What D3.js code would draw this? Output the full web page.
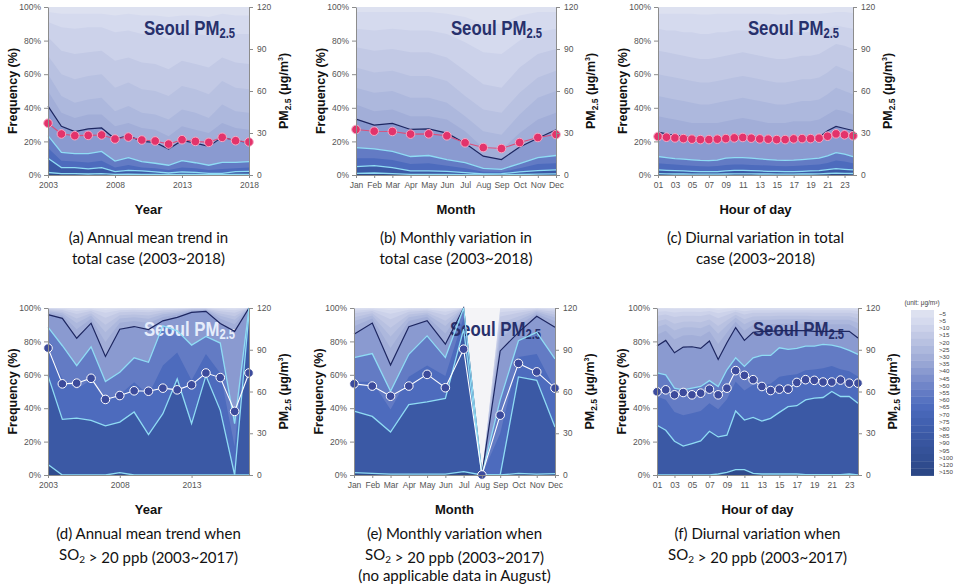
<!DOCTYPE html>
<html lang="en">
<head>
<meta charset="utf-8"/>
<title>Seoul PM2.5 frequency distribution</title>
<style>
  body { margin: 0; background: #fff; }
  svg { display: block; }
  .axis text { font-family: "Liberation Sans", Arial, sans-serif; font-size: 8.5px; fill: #555; }
  .axis path, .axis line { stroke: #8c8c8c; }
  .ttl { font-family: "Liberation Sans", Arial, sans-serif; font-weight: bold; fill: #111; }
  .cap { font-family: Lato, "Open Sans", sans-serif; font-size: 15px; fill: #111; text-anchor: middle; }
  .seoul { font-family: "Liberation Sans", Arial, sans-serif; font-weight: bold; }
</style>
</head>
<body>
<svg id="chart" width="965" height="588"></svg>
<script src="https://d3js.org/d3.v7.min.js"></script>
<script>
// legend classes (ug/m3), light -> dark
const legendLabels = ["~5", ">5", ">10", ">15", ">20", ">25", ">30", ">35", ">40", ">45", ">50", ">55",
  ">60", ">65", ">70", ">75", ">80", ">85", ">90", ">95", ">100", ">120", ">150"];
const legendColors = ["#dde1f0", "#d5daee", "#ccd2ea", "#c2c9e5", "#b8c1e1", "#adb8dd", "#a2aed8", "#97a5d4",
  "#8a9ad0", "#7d8fcc", "#7085c8", "#637bc4", "#5773c1", "#4d6bbd", "#4766b7", "#4261b1", "#3e5dab",
  "#3b59a5", "#38559f", "#355299", "#324f94", "#2f4b8d", "#2b4786"];

// rows of every exceed table: % of hours with PM2.5 above these thresholds
const exceedThresholds = [5, 10, 15, 20, 25, 30, 35, 50, 60, 75, 100];
// legend class used to paint the band lying above each row (last one = below >100)
const bandClass = [0, 1, 2, 3, 4, 5, 6, 8, 11, 13, 17, 21];

const years = [2003, 2004, 2005, 2006, 2007, 2008, 2009, 2010, 2011, 2012, 2013, 2014, 2015, 2016, 2017, 2018];
const yearsSO2 = [2003, 2004, 2005, 2006, 2007, 2008, 2009, 2010, 2011, 2012, 2013, 2014, 2015, 2016, 2017];
const months = ["Jan", "Feb", "Mar", "Apr", "May", "Jun", "Jul", "Aug", "Sep", "Oct", "Nov", "Dec"];
const hours = ["01", "02", "03", "04", "05", "06", "07", "08", "09", "10", "11", "12",
  "13", "14", "15", "16", "17", "18", "19", "20", "21", "22", "23", "24"];
const yearTicksA = [2003, 2008, 2013, 2018];
const yearTicksD = [2003, 2008, 2013];
const hourTicks = ["01", "03", "05", "07", "09", "11", "13", "15", "17", "19", "21", "23"];

// (a) annual, total case
const aMean = [37, 29.3, 28.1, 28.3, 28.6, 25.7, 27.1, 25, 24.3, 22.1, 25.2, 24, 23.3, 26.9, 24.5, 23.6];
const aExceed = [
  [97, 96, 96, 96, 96, 95, 96, 95, 95, 94, 95, 95, 94, 96, 95, 95],
  [91, 88, 87, 88, 88, 85, 86, 84, 84, 81, 85, 84, 83, 86, 84, 84],
  [82, 74, 72, 73, 74, 68, 70, 67, 66, 63, 68, 66, 64, 70, 67, 66],
  [71, 60, 57, 59, 60, 52, 55, 51, 50, 47, 53, 51, 48, 56, 52, 51],
  [60, 47, 43, 45, 46, 38, 41, 37, 36, 33, 39, 37, 34, 42, 38, 37],
  [50, 37, 34, 36, 36, 29, 31, 28, 27, 23, 29, 27, 25, 31, 28, 27],
  [41, 29, 25.8, 27.4, 28, 21.4, 23.4, 20, 19.4, 15.5, 20.6, 19, 17, 22.6, 20.4, 19.4],
  [23.4, 13.5, 12.7, 12.7, 14, 8.3, 10.3, 8, 7, 5.8, 8.5, 7.3, 5.8, 7.5, 7.5, 8],
  [16, 8.5, 8, 7.5, 8.5, 4.5, 6, 4.5, 4, 3, 4.5, 4, 3, 3.5, 4, 4.5],
  [10, 4.4, 4.4, 3.6, 4.4, 2, 2.8, 2.4, 1.8, 1.2, 1.8, 1.6, 1, 1, 2, 2.2],
  [1.5, 0.8, 0.8, 0.6, 0.8, 0.4, 0.5, 0.4, 0.3, 0.2, 0.4, 0.3, 0.2, 0.2, 0.4, 0.4]
];

// (b) monthly, total case
const bMean = [32.5, 31.3, 31.1, 29.2, 29.4, 28, 23, 19.6, 18.9, 23.2, 26.8, 28.9];
const bExceed = [
  [97, 97, 97, 97, 97, 96, 94, 90, 90, 95, 97, 97],
  [87, 86, 87, 86, 86, 84, 79, 73, 72, 80, 85, 87],
  [76, 74, 75, 73, 73, 70, 62, 54, 52, 64, 72, 75],
  [64, 61, 62, 59, 59, 56, 47, 39, 37, 49, 58, 62],
  [52, 49, 50, 46, 46, 43, 35, 26, 24, 36, 46, 50],
  [42, 38, 39, 35, 35, 33, 26, 16, 15, 25, 33, 37],
  [33.3, 29.7, 30.7, 27.1, 27.5, 24.9, 18.9, 11.2, 9.2, 16.7, 21.9, 26.9],
  [16.3, 15.5, 14.1, 11, 11.6, 9.2, 7.4, 4, 3.4, 6.8, 10.4, 11.6],
  [10, 10, 9, 6.5, 7, 5.5, 4, 2, 1.8, 4, 6.5, 7],
  [5, 5.6, 4.4, 2.4, 2.4, 2.2, 1.4, 0.6, 0.8, 1.8, 2.6, 3],
  [1, 1.2, 0.8, 0.4, 0.4, 0.3, 0.2, 0.1, 0.1, 0.3, 0.5, 0.7]
];

// (c) hourly, total case
const cMean = [27.5, 27, 26.5, 26, 25.6, 25.3, 25.3, 25.6, 26, 26.5, 26.8, 26.3, 25.8, 25.6, 25.3, 25.3,
  25.8, 26, 26, 26.3, 27.7, 29.4, 28.7, 28];
const cExceed = [
  [96, 96, 96, 96, 96, 95.5, 95.5, 96, 96, 96, 96, 96, 96, 96, 95.5, 95.5, 96, 96, 96, 96, 96.5, 97, 97, 96.5],
  [87, 86, 86, 85, 85, 84, 84, 85, 85, 86, 86, 86, 85, 85, 84, 84, 85, 85, 85, 86, 87, 89, 88, 87],
  [74, 73, 72, 71, 70, 69, 69, 70, 71, 72, 73, 72, 71, 70, 69, 69, 70, 71, 71, 72, 75, 78, 77, 75],
  [60, 59, 58, 57, 56, 55, 55, 56, 57, 58, 59, 58, 57, 56, 55, 55, 56, 57, 57, 58, 61, 65, 63, 61],
  [47, 46, 45, 44, 43, 42, 42, 43, 44, 45, 46, 45, 44, 43, 42, 42, 43, 44, 44, 45, 48, 52, 50, 48],
  [35, 34, 33, 32, 31, 31, 31, 31, 32, 33, 34, 33, 32, 31, 31, 31, 32, 32, 32, 33, 36, 39, 38, 36],
  [25.5, 24.5, 23.5, 23, 22.5, 22, 22, 22, 22.5, 23, 23.5, 23, 22.5, 22, 22, 22, 22, 22.5, 22.5, 22.5, 26.3, 28.9, 27.7, 26.5],
  [11, 10.4, 9.8, 9.4, 9, 8.7, 8.6, 8.8, 10, 10.4, 10.4, 10, 9.6, 9.2, 8.8, 8.7, 8.8, 9.2, 9.6, 10, 11.4, 13.3, 12.4, 11],
  [7, 6.6, 6.2, 5.8, 5.5, 5.2, 5.1, 5.3, 6, 6.3, 6.3, 6, 5.8, 5.6, 5.3, 5.2, 5.3, 5.6, 5.9, 6.2, 7.2, 8.6, 8, 7],
  [3, 2.8, 2.6, 2.4, 2.2, 2, 2, 2, 2.4, 2.8, 2.8, 2.6, 2.4, 2.2, 2.1, 2, 2, 2.2, 2.4, 2.6, 3.2, 3.8, 3.4, 3],
  [0.8, 0.7, 0.6, 0.6, 0.5, 0.5, 0.5, 0.5, 0.6, 0.7, 0.7, 0.7, 0.6, 0.6, 0.5, 0.5, 0.5, 0.6, 0.6, 0.7, 0.9, 1.1, 1, 0.9]
];

// (d) annual, SO2 > 20 ppb
const dMean = [91.2, 65.5, 66, 69.5, 54.3, 57.1, 60.5, 60.2, 62.4, 61.2, 64.8, 73.3, 70, 45.7, 73.3];
const dExceed = [
  [99.9, 99.8, 99.5, 99.7, 99, 99.6, 99.7, 99.6, 99.8, 99.8, 99.9, 99.9, 99.7, 99.5, 100],
  [99.6, 99.4, 98.2, 99.1, 97.1, 98.7, 98.9, 98.7, 99.2, 99.4, 99.7, 99.8, 99.1, 98.6, 100],
  [99.2, 98.8, 96.4, 98.2, 94.2, 97.5, 97.8, 97.4, 98.5, 98.9, 99.5, 99.6, 98.1, 97.2, 100],
  [98.6, 97.8, 93.7, 96.8, 89.9, 95.6, 96.1, 95.5, 97.3, 98, 99.1, 99.3, 96.7, 95.1, 100],
  [98, 96.9, 91, 95.5, 85.5, 93.7, 94.5, 93.6, 96.2, 97.2, 98.7, 99, 95.4, 93, 100],
  [97.2, 95.7, 87.3, 93.6, 79.7, 91.1, 92.2, 91, 94.6, 96.1, 98.2, 98.6, 93.5, 90.2, 100],
  [96, 93.8, 81.9, 90.9, 71, 87.3, 88.9, 87.1, 92.3, 94.4, 97.4, 98, 90.7, 86, 100],
  [88.5, 77.4, 65.5, 76.8, 56, 61.5, 70.2, 67.5, 89.3, 86.3, 77.8, 83, 79, 30.8, 100],
  [75.5, 57.6, 51.4, 57, 44, 48.1, 55.6, 48, 65.6, 73.3, 56.7, 72.4, 60.9, 17, 98.7],
  [59.5, 33.3, 34.1, 32.7, 29.4, 31.7, 37.7, 24.2, 36.7, 57.5, 30.8, 59.5, 38.7, 0, 97],
  [6.3, 0, 0, 0, 0, 1.4, 0, 0, 0, 0, 0, 0, 0, 0, 0]
];

// (e) monthly, SO2 > 20 ppb (no data in August)
const eMean = [65.5, 63.9, 56.6, 63.9, 72.3, 62.7, 90.4, 0, 43, 80.2, 74.1, 62.4];
const eTotal = [100, 100, 100, 100, 100, 100, 100, 0, 100, 100, 100, 100];
const eExceed = [
  [99.5, 99.7, 99, 99.7, 99.8, 99.4, 100, 0, 99.2, 99.6, 99.9, 99.7],
  [98.4, 99.1, 96.6, 98.9, 99.2, 97.8, 100, 0, 97.4, 98.5, 99.5, 98.9],
  [96.9, 98.2, 93.2, 97.8, 98.5, 95.7, 100, 0, 94.9, 97.1, 99, 97.7],
  [94.5, 96.9, 88.1, 96.1, 97.3, 92.4, 100, 0, 91, 94.9, 98.3, 96],
  [92.2, 95.5, 83, 94.4, 96.2, 89.2, 100, 0, 87.2, 92.7, 97.6, 94.3],
  [89, 93.7, 76.1, 92.2, 94.7, 84.8, 100, 0, 82, 89.8, 96.6, 92],
  [84.3, 91, 65.9, 88.8, 92.4, 78.3, 100, 0, 74.3, 85.4, 95.1, 88.5],
  [70.3, 72.7, 50.2, 72.3, 83.3, 70.3, 100, 0, 45, 80.4, 85.4, 69.6],
  [55.9, 55.8, 39.2, 58.8, 65.5, 59.3, 94.3, 0, 24.8, 70.6, 72.5, 51.2],
  [38.2, 35.1, 25.7, 42.2, 43.8, 45.8, 87.3, 0, 0, 58.7, 56.7, 28.7],
  [1.4, 1, 0.5, 0.5, 0.5, 0.5, 2, 0, 0, 1, 0.5, 0.8]
];

// (f) hourly, SO2 > 20 ppb
const fMean = [59.8, 61.2, 57.6, 59.3, 57.6, 58.8, 61.7, 57.6, 62.4, 75, 71.6, 68.5, 63.6, 60.7, 61.7, 61.7,
  66.5, 68.5, 68, 66.8, 66.8, 68.2, 66, 66];
const fExceed = [
  [99.6, 99.7, 99.4, 99.5, 99.5, 99.5, 99.7, 99, 99.6, 99.9, 99.7, 99.8, 99.8, 99.8, 99.8, 99.8, 99.8, 99.8, 99.8, 99.8, 99.8, 99.8, 99.8, 99.6],
  [97.7, 98.1, 97.3, 97.7, 97.7, 97.6, 98.2, 96.9, 97.9, 98.8, 98.1, 98.6, 98.6, 98.6, 98.7, 98.7, 98.7, 98.7, 98.6, 98.6, 98.6, 98.6, 98.6, 98.2],
  [95.4, 96.1, 94.6, 95.3, 95.4, 95.2, 96.2, 93.8, 95.8, 97.7, 96.1, 97.1, 97.2, 97.2, 97.3, 97.3, 97.3, 97.3, 97.2, 97.2, 97.2, 97.2, 97.2, 96.4],
  [92, 93.2, 90.6, 91.8, 91.9, 91.5, 93.1, 89.2, 92.7, 95.9, 93.2, 94.9, 95.1, 95.1, 95.3, 95.3, 95.3, 95.3, 95.1, 95.1, 95.1, 95.1, 95.1, 93.7],
  [88.6, 90.3, 86.6, 88.3, 88.4, 87.9, 90.1, 84.6, 89.6, 94.2, 90.3, 92.8, 93, 93, 93.3, 93.3, 93.3, 93.3, 93, 93, 93, 93, 93, 91],
  [84, 86.4, 81.2, 83.6, 83.8, 83, 86.1, 78.4, 85.4, 91.8, 86.4, 89.9, 90.2, 90.2, 90.6, 90.6, 90.6, 90.6, 90.2, 90.2, 90.2, 90.2, 90.2, 87.4],
  [77.2, 80.6, 73.2, 76.6, 76.8, 75.8, 80.2, 69.2, 79.2, 88.3, 80.6, 85.5, 86, 86, 86.5, 86.5, 86.5, 86.5, 86, 86, 86, 86, 86, 82],
  [61.1, 60, 52, 51, 52, 53, 56.5, 53, 63, 70.2, 65, 70.2, 71.6, 71.6, 76.2, 75.2, 75.8, 77.2, 77.2, 78.2, 77.8, 76.6, 74.6, 72.2],
  [47, 45, 37.7, 35.8, 37, 38.3, 42.9, 39.4, 45.4, 55.8, 50.6, 54.1, 53.9, 54.6, 58.8, 59.8, 60.4, 62.7, 63.2, 63.9, 65.3, 63.3, 62.2, 59],
  [29.8, 26.8, 20.2, 17.3, 18.8, 20.4, 26.2, 22.8, 23.8, 38.3, 32.9, 34.5, 32.3, 33.9, 37.5, 40.9, 41.5, 45, 46, 46.4, 50, 47, 47, 42.9],
  [0, 0, 0, 0, 0, 0, 0, 0.6, 1.6, 3.2, 3.2, 1, 0.6, 0.6, 0.6, 0.6, 0.6, 0.2, 0.2, 0.2, 0.2, 0.2, 0.6, 0]
];

const pctTicks = [0, 20, 40, 60, 80, 100];
const pmTicks = [0, 30, 60, 90, 120];

// which exceed rows get an outline
const outlined = [
  { row: 6, color: "#1d2660", width: 1.2 },
  { row: 7, color: "#8fdcf4", width: 1.3 },
  { row: 9, color: "#8fdcf4", width: 1.3 },
  { row: 10, color: "#8fdcf4", width: 1.3 }
];

const topRow = { top: 7, bottom: 175, capY: 243, dot: "#e3336b", dotStroke: "#f6a9c4", dotLine: "#dc4f7c", seoul: "#27306c" };
const botRow = { top: 308, bottom: 475, capY: 539, dot: "#3c4b9c", dotStroke: "#ffffff", dotLine: "#ffffff", seoul: "#27306c" };

const panels = [
  { row: topRow, left: 48, right: 249, linear: true, cats: years, xTicks: yearTicksA, mean: aMean, exceed: aExceed,
    xTitle: "Year", caption: ["(a) Annual mean trend in", "total case (2003~2018)"] },
  { row: topRow, left: 356, right: 556, cats: months, xTicks: months, mean: bMean, exceed: bExceed,
    xTitle: "Month", caption: ["(b) Monthly variation in", "total case (2003~2018)"] },
  { row: topRow, left: 658, right: 853, cats: hours, xTicks: hourTicks, mean: cMean, exceed: cExceed,
    xTitle: "Hour of day", caption: ["(c) Diurnal variation in total", "case (2003~2018)"] },
  { row: botRow, left: 48, right: 249, linear: true, cats: yearsSO2, xTicks: yearTicksD, mean: dMean, exceed: dExceed,
    xTitle: "Year", seoulFill: "#e6edfb", caption: ["(d) Annual mean trend when", "SO_2 > 20 ppb (2003~2017)"] },
  { row: botRow, left: 354, right: 555, cats: months, xTicks: months, mean: eMean, exceed: eExceed, total: eTotal,
    xTitle: "Month", caption: ["(e) Monthly variation when", "SO_2 > 20 ppb (2003~2017)", "(no applicable data in August)"] },
  { row: botRow, left: 657, right: 858, cats: hours, xTicks: hourTicks, mean: fMean, exceed: fExceed,
    xTitle: "Hour of day", caption: ["(f) Diurnal variation when", "SO_2 > 20 ppb (2003~2017)"] }
];

const svg = d3.select("#chart");

// text with "_x" subscripts
function richText(sel, str, subSize) {
  str.split(/(_\S)/).forEach(part => {
    if (part.startsWith("_")) {
      sel.append("tspan").attr("font-size", subSize).attr("dy", "0.3em").text(part.slice(1));
      sel.append("tspan").attr("dy", "-0.3em").text("");
    } else if (part) {
      sel.append("tspan").text(part);
    }
  });
}

function drawPanel(p) {
  const r = p.row;
  const g = svg.append("g");
  const x = p.linear
    ? d3.scaleLinear().domain(d3.extent(p.cats)).range([p.left, p.right])
    : d3.scalePoint().domain(p.cats).range([p.left, p.right]);
  const yPct = d3.scaleLinear().domain([0, 100]).range([r.bottom, r.top]);
  const yPm = d3.scaleLinear().domain([0, 120]).range([r.bottom, r.top]);
  const idx = d3.range(p.cats.length);
  const total = p.total || p.cats.map(() => 100);
  const bounds = [total].concat(p.exceed);

  g.append("rect")
    .attr("x", p.left).attr("y", r.top)
    .attr("width", p.right - p.left).attr("height", r.bottom - r.top)
    .attr("fill", "#f4f4f7");

  // cumulative bands, painted top class first so they overlap without seams
  bounds.forEach((b, k) => {
    const area = d3.area()
      .x(i => x(p.cats[i]))
      .y0(yPct(0))
      .y1(i => yPct(b[i]));
    g.append("path").datum(idx).attr("d", area).attr("fill", legendColors[bandClass[k]]);
  });

  // Seoul PM2.5 label, condensed
  const st = g.append("g")
    .attr("transform", `translate(${p.right - 14},${r.top + 28}) scale(0.8,1)`)
    .append("text").attr("class", "seoul")
    .attr("text-anchor", "end").attr("font-size", 21)
    .attr("fill", p.seoulFill || r.seoul);
  st.append("tspan").text("Seoul PM");
  st.append("tspan").attr("font-size", 14).attr("dy", 3).text("2.5");

  outlined.forEach(o => {
    const line = d3.line().x(i => x(p.cats[i])).y(i => yPct(p.exceed[o.row][i]));
    g.append("path").datum(idx).attr("d", line)
      .attr("fill", "none").attr("stroke", o.color).attr("stroke-width", o.width);
  });

  // mean PM2.5 on the right axis
  const meanLine = d3.line().x(i => x(p.cats[i])).y(i => yPm(p.mean[i]));
  g.append("path").datum(idx).attr("d", meanLine)
    .attr("fill", "none").attr("stroke", r.dotLine).attr("stroke-width", 1.1);
  g.selectAll(".dot").data(idx).join("circle")
    .attr("cx", i => x(p.cats[i])).attr("cy", i => yPm(p.mean[i]))
    .attr("r", 4.3).attr("fill", r.dot)
    .attr("stroke", r.dotStroke).attr("stroke-width", 1);

  // axes
  g.append("g").attr("class", "axis")
    .attr("transform", `translate(${p.left},0)`)
    .call(d3.axisLeft(yPct).tickValues(pctTicks).tickFormat(d => d + "%").tickSize(4).tickSizeOuter(0).tickPadding(3));
  g.append("g").attr("class", "axis")
    .attr("transform", `translate(${p.right},0)`)
    .call(d3.axisRight(yPm).tickValues(pmTicks).tickSize(4).tickSizeOuter(0).tickPadding(4));
  g.append("g").attr("class", "axis")
    .attr("transform", `translate(0,${r.bottom})`)
    .call(d3.axisBottom(x).tickValues(p.xTicks).tickFormat(d => d).tickSize(3).tickSizeOuter(0).tickPadding(4));

  const midX = (p.left + p.right) / 2;
  const midY = (r.top + r.bottom) / 2;

  g.append("text").attr("class", "ttl")
    .attr("x", midX).attr("y", r.bottom + 39)
    .attr("text-anchor", "middle").attr("font-size", 13)
    .text(p.xTitle);

  g.append("text").attr("class", "ttl")
    .attr("transform", `translate(${p.left - 31},${midY}) rotate(-90)`)
    .attr("text-anchor", "middle").attr("font-size", 12.5)
    .text("Frequency (%)");

  const rt = g.append("text").attr("class", "ttl")
    .attr("transform", `translate(${p.right + 39},${midY}) rotate(-90)`)
    .attr("text-anchor", "middle").attr("font-size", 12.5);
  rt.append("tspan").text("PM");
  rt.append("tspan").attr("font-size", 8.5).attr("dy", 3).text("2.5");
  rt.append("tspan").attr("dy", -3).text(" (μg/m");
  rt.append("tspan").attr("font-size", 7).attr("dy", -5).text("3");
  rt.append("tspan").attr("dy", 5).text(")");

  p.caption.forEach((line, k) => {
    const t = g.append("text").attr("class", "cap")
      .attr("x", midX).attr("y", r.capY + k * 21);
    richText(t, line, 10);
  });
}

panels.forEach(drawPanel);

// legend
const lg = svg.append("g");
const swH = 7.2;
const ly = d3.scaleBand().domain(legendLabels).range([310, 310 + swH * legendLabels.length]);
lg.append("text")
  .attr("x", 922).attr("y", 305)
  .attr("text-anchor", "middle")
  .attr("font-family", "Liberation Sans, Arial, sans-serif").attr("font-size", 6.5).attr("fill", "#444")
  .text("(unit: μg/m³)");
lg.selectAll("rect").data(legendLabels).join("rect")
  .attr("x", 911).attr("y", d => ly(d))
  .attr("width", 23).attr("height", ly.bandwidth() + 0.3)
  .attr("fill", (d, i) => legendColors[i]);
lg.selectAll(".lab").data(legendLabels).join("text")
  .attr("class", "lab")
  .attr("x", 939).attr("y", d => ly(d) + ly.bandwidth() / 2)
  .attr("dy", "0.35em")
  .attr("font-family", "Liberation Sans, Arial, sans-serif").attr("font-size", 6.2).attr("fill", "#444")
  .text(d => d);
</script>
</body>
</html>
